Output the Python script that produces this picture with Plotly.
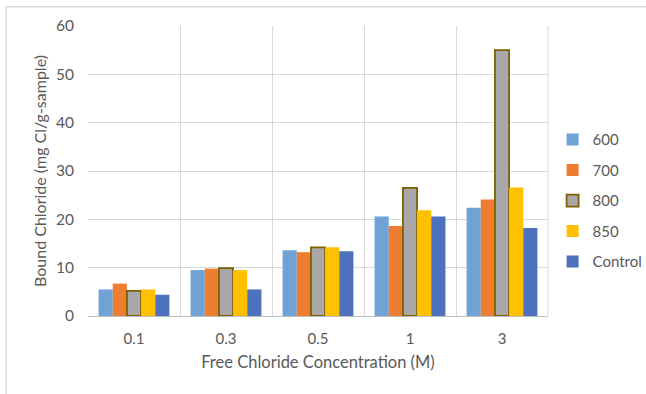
import plotly.graph_objects as go

categories = ["0.1", "0.3", "0.5", "1", "3"]
series_names = ["600", "700", "800", "850", "Control"]
v600 = [5.5, 9.5, 13.6, 20.6, 22.4]
v700 = [6.7, 9.8, 13.2, 18.6, 24.1]
v800 = [5.2, 9.9, 14.2, 26.5, 55.0]
v850 = [5.5, 9.5, 14.2, 21.9, 26.6]
vcontrol = [4.4, 5.5, 13.4, 20.6, 18.2]
values = [v600, v700, v800, v850, vcontrol]

colors = ["#70A2D6", "#ED7D31", "#A9A7A7", "#FFC000", "#4E71BE"]
line_colors = ["#70A2D6", "#ED7D31", "#7F6000", "#FFC000", "#4E71BE"]
line_widths = [0, 0, 1.8, 0, 0]

FONT = "Lato"
TXT = "#595959"

fig = go.Figure()
for i, (name, vals) in enumerate(zip(series_names, values)):
    fig.add_trace(go.Bar(
        x=categories, y=vals, name=name,
        marker=dict(color=colors[i], line=dict(color=line_colors[i], width=line_widths[i])),
        legendgroup=name,
    ))

fig.update_layout(
    width=646, height=394,
    margin=dict(l=88, r=98, t=26, b=78, autoexpand=False),
    paper_bgcolor="white", plot_bgcolor="white",
    barmode="group", bargap=0.23, bargroupgap=0,
    font=dict(family=FONT, size=15, color=TXT),
    legend=dict(x=1.01, y=0.397, xanchor="left", yanchor="middle",
                traceorder="grouped", tracegroupgap=8,
                font=dict(family=FONT, size=15, color=TXT),
                itemwidth=30),
    xaxis=dict(
        type="category", tickson="boundaries", showgrid=True, gridcolor="#D9D9D9", gridwidth=1,
        showline=True, linecolor="#BFBFBF", linewidth=1, ticks="", ticklen=0,
        ticklabelstandoff=9,
        tickfont=dict(family=FONT, size=15, color=TXT),
        title=dict(text="Free Chloride Concentration (M)", font=dict(family=FONT, size=16.5, color=TXT), standoff=10),
    ),
    yaxis=dict(
        range=[0, 60], dtick=10, showgrid=True, gridcolor="#D9D9D9", gridwidth=1,
        zeroline=False, showline=False, ticks="",
        ticklabelstandoff=13,
        tickfont=dict(family=FONT, size=15.5, color=TXT),
        title=dict(text="Bound Chloride (mg Cl/g-sample)", font=dict(family=FONT, size=16, color=TXT), standoff=5),
    ),
    shapes=[
        dict(type="line", xref="paper", yref="paper", x0=-0.178, x1=1.3, y0=1.066, y1=1.066,
             line=dict(color="#D9D9D9", width=1.5)),
        dict(type="line", xref="paper", yref="paper", x0=-0.178, x1=-0.178, y0=1.066, y1=-0.27,
             line=dict(color="#D9D9D9", width=1.5)),
        dict(type="line", xref="paper", yref="paper", x0=1, x1=1, y0=0, y1=1,
             line=dict(color="#D9D9D9", width=1)),
    ],
)

fig.write_html("out.html")
